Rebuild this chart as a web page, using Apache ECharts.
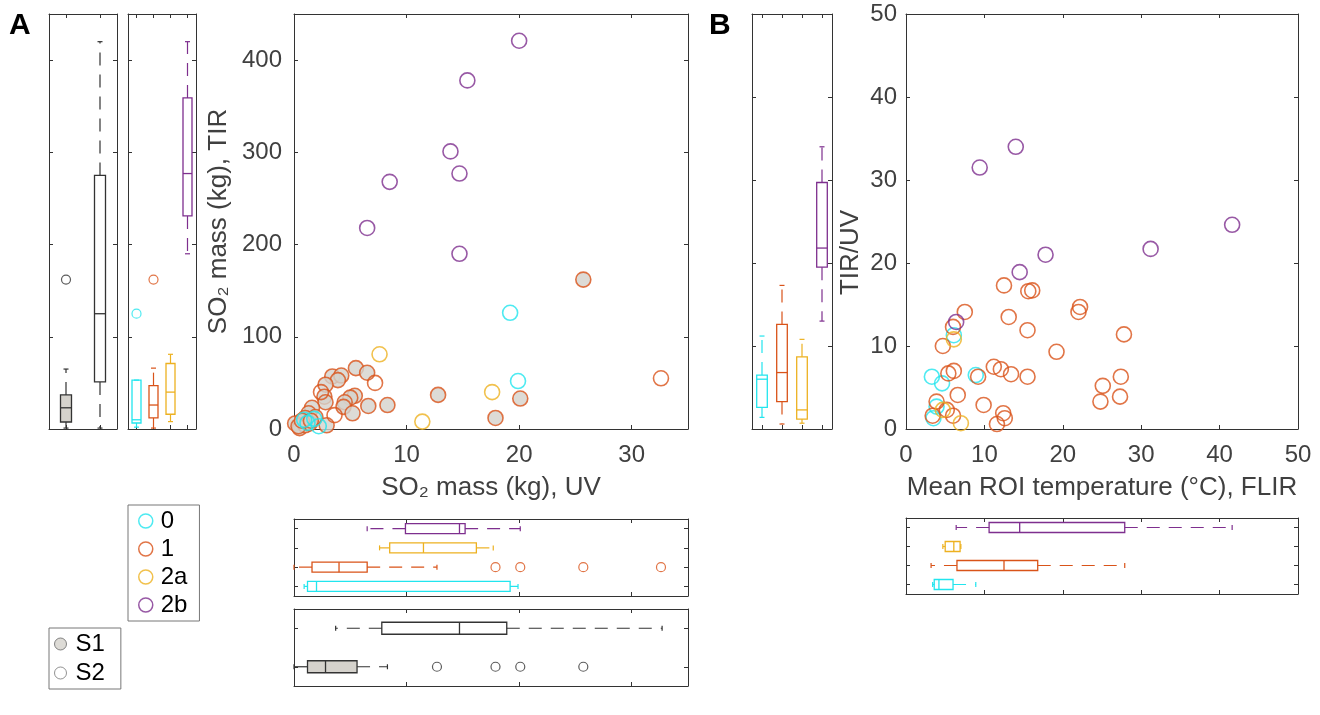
<!DOCTYPE html>
<html>
<head>
<meta charset="UTF-8">
<title>SO2 mass TIR vs UV</title>
<script src="https://cdn.jsdelivr.net/npm/echarts@6/dist/echarts.min.js"></script>
<style>
  html, body { margin: 0; padding: 0; background: #fff; }
  #main { width: 1320px; height: 715px; }
</style>
</head>
<body>
<div id="main"></div>
<script type="text/javascript">
// categories
var groups = ['0', '1', '2a', '2b'];
var seasons = ['S1', 'S2'];

// panel A scatter: [SO2 mass UV (kg), SO2 mass TIR (kg)]
var aS1 = [[25.7, 162], [12.8, 37], [20.1, 33], [17.9, 12], [5.5, 66], [6.5, 61], [3.4, 57], [4.2, 58],
  [3.9, 53], [2.8, 48], [2.7, 35], [2.8, 29], [5.4, 36], [5.0, 34], [4.5, 29], [4.4, 24], [5.2, 17],
  [6.6, 25], [8.3, 26], [1.6, 23], [1.3, 17], [1.9, 13], [1.0, 12], [0.1, 6], [0.5, 1], [1.0, 4],
  [1.4, 6], [2.9, 4], [0.4, 3], [0.7, 9], [1.5, 9]];
var a0 = [[0.9, 10], [1.2, 6.6], [1.8, 11], [2.2, 3], [19.2, 126], [19.9, 52]];
var a1 = [[32.6, 55], [7.2, 50], [2.4, 40], [3.6, 15]];
var a2a = [[7.6, 81], [17.6, 40], [11.4, 8]];
var a2b = [[20.0, 421], [15.4, 378], [13.9, 301], [14.7, 277], [8.5, 268], [6.5, 218], [14.7, 190]];

// panel B scatter: [mean ROI temperature (degC), TIR/UV]
var b0 = [[3.3, 6.3], [4.6, 5.5], [8.9, 6.5], [3.9, 2.7], [3.5, 1.3], [6.1, 11.3]];
var b1 = [[12.5, 17.3], [15.6, 16.6], [16.1, 16.7], [22.2, 14.7], [22.0, 14.1], [7.5, 14.1], [6.0, 12.3],
  [13.1, 13.5], [15.5, 11.9], [27.8, 11.4], [4.7, 10.0], [19.2, 9.3], [5.4, 6.7], [6.1, 7.0], [9.2, 6.3],
  [11.2, 7.5], [12.1, 7.2], [13.4, 6.6], [15.5, 6.3], [6.6, 4.1], [27.4, 6.3], [27.3, 3.9], [25.1, 5.2],
  [24.8, 3.3], [9.9, 2.9], [12.4, 1.9], [12.6, 1.3], [11.6, 0.6], [3.9, 3.3], [3.4, 1.6], [6.0, 1.6], [5.2, 2.3]];
var b2a = [[6.1, 10.8], [4.7, 2.3], [7.0, 0.7]];
var b2b = [[9.4, 31.5], [14.0, 34.0], [41.6, 24.6], [31.2, 21.7], [17.8, 21.0], [14.5, 18.9], [6.4, 12.9]];

// box stats [min, q1, median, q3, max]
var tirBySeason = [[1, 7.6, 23, 37, 65], [1, 51, 125, 275, 420]];
var tirBySeasonOut = [[0, 162]];
var tirByGroup = [[2, 6.5, 10, 53, 53], [1, 12, 26, 47, 66], [8, 16, 40, 71, 81], [190, 231, 277, 359, 420]];
var tirByGroupOut = [[0, 125], [1, 162]];
var uvByGroup = [[0.9, 1.2, 2.0, 19.2, 19.9], [0, 1.6, 4.0, 6.5, 12.7], [7.6, 8.5, 11.5, 16.2, 17.7], [6.5, 9.9, 14.7, 15.2, 20.1]];
var uvByGroupOut = [[17.9, 1], [20.1, 1], [25.7, 1], [32.6, 1]];
var uvBySeason = [[0, 1.2, 2.8, 5.6, 8.3], [3.7, 7.8, 14.7, 18.9, 32.7]];
var uvBySeasonOut = [[12.7, 0], [17.9, 0], [20.1, 0], [25.7, 0]];
var ratioByGroup = [[1.4, 2.6, 6.0, 6.5, 11.2], [0.6, 3.3, 6.8, 12.6, 17.3], [0.7, 1.2, 2.3, 8.7, 10.8], [13.0, 19.5, 21.8, 29.7, 34.0]];
var tempByGroup = [[3.4, 3.6, 4.2, 6.0, 8.9], [3.2, 6.5, 12.5, 16.8, 27.9], [4.7, 5.0, 6.1, 6.9, 7.0], [6.4, 10.6, 14.5, 27.9, 41.6]];

var FONT = "'Liberation Sans', Arial, Helvetica, sans-serif";
var groupColors = ['#22e5ee', '#D95319', '#EDB120', '#7E2F8E'];
var dark = '#333333';
var greyFill = '#d5d2cc';

var myChart = echarts.init(document.getElementById('main'));

var xAxes = [], yAxes = [];
function axis(gi, core, pos, label, extra) {
  var a = {
    gridIndex: gi, position: pos, type: core.type,
    min: core.min, max: core.max, interval: core.interval, data: core.data,
    axisLine: { show: true, onZero: false, lineStyle: { color: dark, width: 1 } },
    axisTick: { show: true, inside: true, length: 4, alignWithLabel: true, interval: 0, lineStyle: { color: dark, width: 1 } },
    axisLabel: { show: !!label, margin: label || 8, color: '#404040', fontSize: 24, fontFamily: FONT,
      showMaxLabel: !core.hideMax },
    splitLine: { show: false }
  };
  if (extra) {
    a.name = extra.name;
    a.nameLocation = 'middle';
    a.nameGap = extra.gap;
    a.nameTextStyle = { fontSize: 26, color: '#404040', fontFamily: FONT, padding: extra.padding || 0 };
  }
  return a;
}
// each grid gets a bottom/top x axis and a left/right y axis -> main axes at index 2*gi
function frame(gi, xc, yc, xl, yl, xn, yn) {
  xAxes.push(axis(gi, xc, 'bottom', xl, xn));
  xAxes.push(axis(gi, xc, 'top'));
  yAxes.push(axis(gi, yc, 'left', yl, yn));
  yAxes.push(axis(gi, yc, 'right'));
}

var tirAxis = { type: 'value', min: 0, max: 450, interval: 100, hideMax: true };
var uvAxis = { type: 'value', min: 0, max: 35, interval: 10, hideMax: true };
var b50 = { type: 'value', min: 0, max: 50, interval: 10 };
var seasonCat = { type: 'category', data: seasons };
var groupCat = { type: 'category', data: groups };

frame(0, seasonCat, tirAxis);
frame(1, groupCat, tirAxis);
frame(2, uvAxis, tirAxis, 14, 12, { name: 'SO\u2082 mass (kg), UV', gap: 46 }, { name: 'SO\u2082 mass (kg), TIR', gap: 62 });
frame(3, uvAxis, groupCat);
frame(4, uvAxis, seasonCat);
frame(5, groupCat, b50);
frame(6, b50, b50, 14, 9, { name: 'Mean ROI temperature (\u00b0C), FLIR', gap: 46 }, { name: 'TIR/UV', gap: 42, padding: [0, 62, 0, 0] });
frame(7, b50, groupCat);

var grids = [
  [49, 14, 68, 415], [128, 14, 68, 415], [294, 14, 394, 415], [294, 519, 394, 77],
  [294, 609, 394, 77], [752, 14, 80, 415], [906, 14, 392, 415], [906, 518, 392, 76]
].map(function (g) {
  return { left: g[0], top: g[1], width: g[2], height: g[3], show: false };
});

function boxRender(horizontal, half, strokes, fills) {
  return function (params, api) {
    var c = api.value(0);
    var v = [api.value(1), api.value(2), api.value(3), api.value(4), api.value(5)];
    var col = strokes[params.dataIndex];
    function pt(val, off) {
      var p = horizontal ? api.coord([val, c]) : api.coord([c, val]);
      return horizontal ? [p[0], p[1] + off] : [p[0] + off, p[1]];
    }
    function seg(a, b, style) {
      return { type: 'line', shape: { x1: a[0], y1: a[1], x2: b[0], y2: b[1] }, style: style };
    }
    var solid = { stroke: col, lineWidth: 1.2, fill: null };
    var dashed = { stroke: col, lineWidth: 1.2, lineDash: [13, 9], fill: null };
    var cap = 2.5;
    return {
      type: 'group',
      children: [
        seg(pt(v[1], 0), pt(v[0], 0), dashed),
        seg(pt(v[3], 0), pt(v[4], 0), dashed),
        seg(pt(v[0], -cap), pt(v[0], cap), solid),
        seg(pt(v[4], -cap), pt(v[4], cap), solid),
        { type: 'polygon', shape: { points: [pt(v[1], -half), pt(v[3], -half), pt(v[3], half), pt(v[1], half)] },
          style: { fill: fills ? fills[params.dataIndex] : null, stroke: col, lineWidth: 1.3 } },
        seg(pt(v[2], -half), pt(v[2], half), { stroke: col, lineWidth: 1.3 })
      ]
    };
  };
}

function boxSeries(gi, stats, horizontal, half, strokes, fills) {
  return {
    type: 'custom', xAxisIndex: 2 * gi, yAxisIndex: 2 * gi, silent: true,
    renderItem: boxRender(horizontal, half, strokes, fills),
    encode: horizontal ? { x: [1, 2, 3, 4, 5], y: 0 } : { x: 0, y: [1, 2, 3, 4, 5] },
    data: stats.map(function (s, i) { return [i].concat(s); })
  };
}

function outlierSeries(gi, pts, colorOf) {
  return {
    type: 'scatter', xAxisIndex: 2 * gi, yAxisIndex: 2 * gi, symbol: 'circle', symbolSize: 9, silent: true,
    data: pts.map(function (p) {
      return { value: p, itemStyle: { color: 'rgba(255,255,255,0)', borderColor: colorOf(p), borderWidth: 1.2 } };
    })
  };
}

function hollow(name, gi, data, color) {
  return {
    name: name, type: 'scatter', xAxisIndex: 2 * gi, yAxisIndex: 2 * gi, symbol: 'circle', symbolSize: 15,
    itemStyle: { color: 'rgba(255,255,255,0)', borderColor: color, borderWidth: 1.6 },
    data: data
  };
}

var series = [
  boxSeries(0, tirBySeason, false, 5.5, [dark, dark], [greyFill, null]),
  outlierSeries(0, tirBySeasonOut, function () { return dark; }),
  boxSeries(1, tirByGroup, false, 4.5, groupColors),
  outlierSeries(1, tirByGroupOut, function (p) { return groupColors[p[0]]; }),
  {
    name: 'S1', type: 'scatter', xAxisIndex: 4, yAxisIndex: 4, symbol: 'circle', symbolSize: 15,
    itemStyle: { color: greyFill, borderColor: groupColors[1], borderWidth: 1.6 },
    data: aS1
  },
  { name: 'S2', type: 'scatter', xAxisIndex: 4, yAxisIndex: 4, symbol: 'circle', data: [],
    itemStyle: { color: '#fff', borderColor: '#777', borderWidth: 1 } },
  hollow('0', 2, a0, groupColors[0]),
  hollow('1', 2, a1, groupColors[1]),
  hollow('2a', 2, a2a, groupColors[2]),
  hollow('2b', 2, a2b, groupColors[3]),
  boxSeries(3, uvByGroup, true, 5, groupColors),
  outlierSeries(3, uvByGroupOut, function (p) { return groupColors[p[1]]; }),
  boxSeries(4, uvBySeason, true, 6, [dark, dark], [greyFill, null]),
  outlierSeries(4, uvBySeasonOut, function () { return dark; }),
  boxSeries(5, ratioByGroup, false, 5.3, groupColors),
  hollow('0', 6, b0, groupColors[0]),
  hollow('1', 6, b1, groupColors[1]),
  hollow('2a', 6, b2a, groupColors[2]),
  hollow('2b', 6, b2b, groupColors[3]),
  boxSeries(7, tempByGroup, true, 5, groupColors)
];

var option = {
  animation: false,
  backgroundColor: '#fff',
  title: [
    { text: 'A', left: 9, top: 11, padding: 0, textStyle: { fontSize: 30, fontWeight: 'bold', color: '#000', fontFamily: FONT } },
    { text: 'B', left: 709, top: 11, padding: 0, textStyle: { fontSize: 30, fontWeight: 'bold', color: '#000', fontFamily: FONT } }
  ],
  legend: [
    {
      data: groups.map(function (g, i) {
        return { name: g, icon: 'circle', itemStyle: { color: '#fff', borderColor: groupColors[i], borderWidth: 1.5 } };
      }),
      orient: 'vertical', left: 128, top: 505, itemWidth: 14, itemHeight: 14, itemGap: 4,
      padding: [4, 12, 4, 10], borderColor: '#777', borderWidth: 1, selectedMode: false,
      textStyle: { fontSize: 24, lineHeight: 24, color: '#000', fontFamily: FONT, padding: [0, 0, 0, 3] }
    },
    {
      data: [
        { name: 'S1', icon: 'circle', itemStyle: { color: greyFill, borderColor: '#666', borderWidth: 1 } },
        { name: 'S2', icon: 'circle', itemStyle: { color: '#fff', borderColor: '#777', borderWidth: 1 } }
      ],
      orient: 'vertical', left: 49, top: 628, itemWidth: 12, itemHeight: 12, itemGap: 5,
      padding: [4, 16, 4, 5], borderColor: '#777', borderWidth: 1, selectedMode: false,
      textStyle: { fontSize: 24, lineHeight: 24, color: '#000', fontFamily: FONT, padding: [0, 0, 0, 4] }
    }
  ],
  grid: grids,
  xAxis: xAxes,
  yAxis: yAxes,
  series: series
};

myChart.setOption(option);
</script>
</body>
</html>
